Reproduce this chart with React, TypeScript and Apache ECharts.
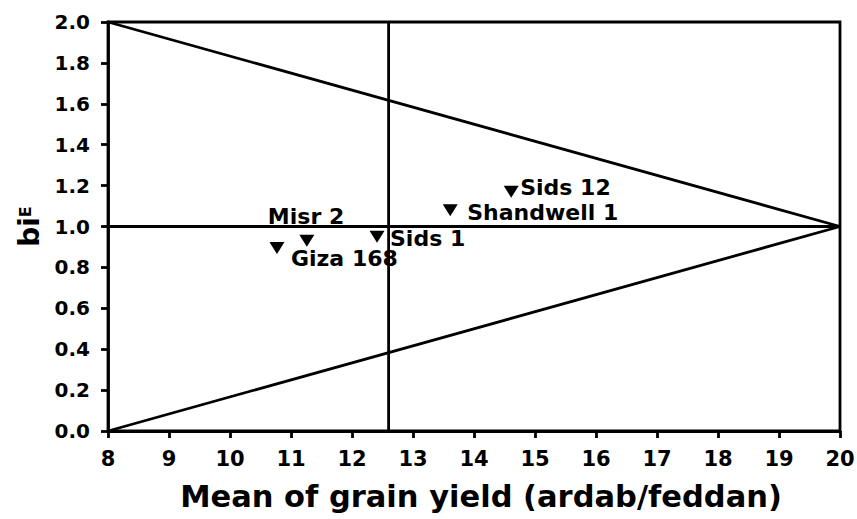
import React, { useEffect, useRef } from "react";
import * as echarts from "echarts";

// ---- data ----
const genotypes = ["Giza 168", "Misr 2", "Sids 1", "Shandwell 1", "Sids 12"];
const meanYield = [10.77, 11.26, 12.41, 13.61, 14.61];
const biE = [0.895, 0.93, 0.95, 1.08, 1.17];

const xTicks = [8, 20, 1]; // min, max, interval
const yTicks = [0, 2, 0.2];

const grandMean = 12.6; // vertical reference line
const upperLine = [[8, 2], [20, 1]];
const lowerLine = [[8, 0], [20, 1]];
const unitLine = [[8, 1], [20, 1]];

// label placement (style, not data)
const labelOffsets: number[][] = [
  [14, 11],
  [-39, -24],
  [13, 2],
  [17, 2],
  [9, -4],
];

const FONT = "'DejaVu Sans', 'Liberation Sans', Arial, sans-serif";

export default function App() {
  const ref = useRef<HTMLDivElement>(null);
  useEffect(() => {
    if (!ref.current) return;
    const chart = echarts.init(ref.current, undefined, { renderer: "svg" });
    const black = "#000";
    const lineStyle = { color: black, width: 2.8 };
    chart.setOption({
      animation: false,
      backgroundColor: "#fff",
      grid: {
        left: 108,
        right: 17,
        top: 22,
        bottom: 88,
        outerBoundsMode: "none",
        containLabel: false,
        show: true,
        borderColor: black,
        borderWidth: 2.8,
        backgroundColor: "transparent",
      },
      xAxis: {
        type: "value",
        min: xTicks[0],
        max: xTicks[1],
        interval: xTicks[2],
        name: "Mean of grain yield (ardab/feddan)",
        nameLocation: "middle",
        nameGap: 50,
        nameTextStyle: {
          color: black,
          fontSize: 30.5,
          fontWeight: "bold",
          fontFamily: FONT,
          padding: [0, 0, 0, 14],
        },
        axisLine: { show: true, lineStyle },
        axisTick: { show: true, length: 7, lineStyle },
        axisLabel: { color: black, fontSize: 21, fontWeight: "bold", fontFamily: FONT, margin: 17 },
        splitLine: { show: false },
      },
      yAxis: {
        type: "value",
        min: yTicks[0],
        max: yTicks[1],
        interval: yTicks[2],
        name: "{a|bi}{b|E}",
        nameLocation: "middle",
        nameGap: 60,
        nameRotate: 90,
        nameTextStyle: {
          color: black,
          fontFamily: FONT,
          rich: {
            a: { fontSize: 28, fontWeight: "bold", fontFamily: FONT, color: black, lineHeight: 32 },
            b: { fontSize: 16, fontWeight: "bold", fontFamily: FONT, color: black, lineHeight: 32, verticalAlign: "middle", padding: [0, 0, 8, 0] },
          },
        },
        axisLine: { show: true, lineStyle },
        axisTick: { show: true, length: 7, lineStyle },
        axisLabel: {
          color: black,
          fontSize: 20,
          fontWeight: "bold",
          fontFamily: FONT,
          margin: 18,
          formatter: (v: number) => v.toFixed(1),
        },
        splitLine: { show: false },
      },
      series: [
        { type: "line", data: upperLine, symbol: "none", lineStyle, silent: true },
        { type: "line", data: lowerLine, symbol: "none", lineStyle, silent: true },
        { type: "line", data: unitLine, symbol: "none", lineStyle, silent: true },
        {
          type: "line",
          data: [[grandMean, yTicks[0]], [grandMean, yTicks[1]]],
          symbol: "none",
          lineStyle,
          silent: true,
        },
        {
          type: "scatter",
          symbol: "triangle",
          symbolRotate: 180,
          symbolSize: [15, 12],
          itemStyle: { color: black, opacity: 1 },
          z: 5,
          data: genotypes.map((g, i) => ({
            value: [meanYield[i], biE[i]],
            name: g,
            label: {
              show: true,
              position: "inside",
              align: "left",
              verticalAlign: "middle",
              offset: labelOffsets[i],
              formatter: g,
              color: black,
              textBorderWidth: 0,
              fontSize: 22,
              fontWeight: "bold",
              fontFamily: FONT,
            },
          })),
        },
      ],
    });
    return () => chart.dispose();
  }, []);
  return (
    <div
      ref={ref}
      style={{ position: "absolute", left: 0, top: 0, width: 857, height: 519 }}
    />
  );
}
